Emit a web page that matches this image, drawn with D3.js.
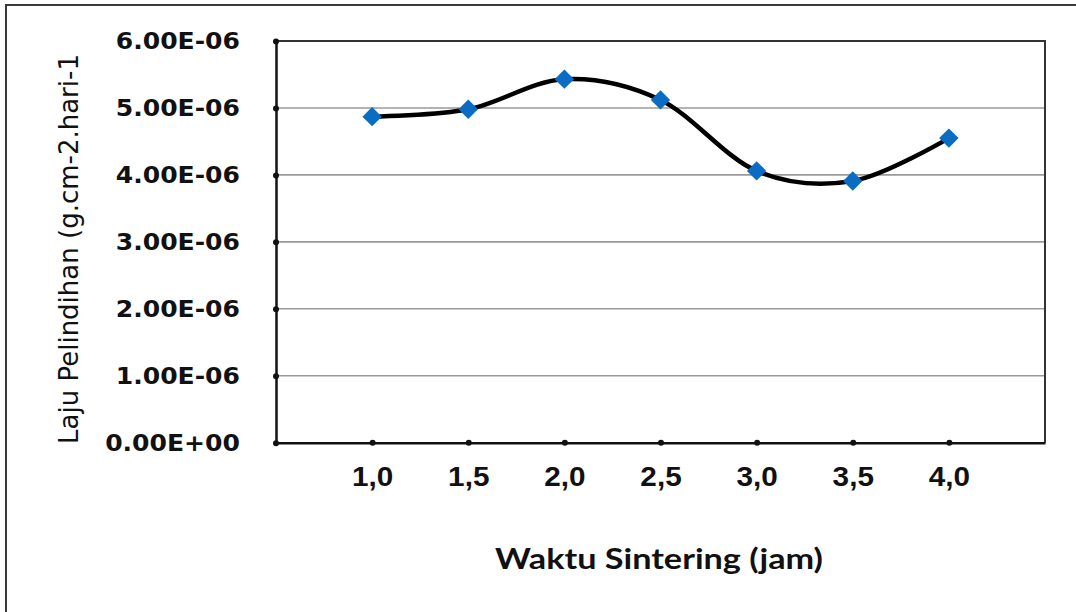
<!DOCTYPE html>
<html>
<head>
<meta charset="utf-8">
<script src="https://cdn.jsdelivr.net/npm/d3@7"></script>
<style>
  html, body { margin: 0; padding: 0; background: #fff; }
  svg { display: block; }
</style>
</head>
<body>
<svg id="chart" width="1076" height="612"></svg>
<script>
// ---- data ----
const categories = ["1,0", "1,5", "2,0", "2,5", "3,0", "3,5", "4,0"];
const sinteringHours = [1.0, 1.5, 2.0, 2.5, 3.0, 3.5, 4.0];
const leachRate = [4.87e-6, 4.98e-6, 5.43e-6, 5.12e-6, 4.06e-6, 3.91e-6, 4.55e-6];
const yTickValues = [0, 1e-6, 2e-6, 3e-6, 4e-6, 5e-6, 6e-6];
const yTickLabels = ["0.00E+00", "1.00E-06", "2.00E-06", "3.00E-06", "4.00E-06", "5.00E-06", "6.00E-06"];
const yTitle = "Laju Pelindihan (g.cm-2.hari-1";
const xTitle = "Waktu Sintering (jam)";

// ---- layout ----
const W = 1076, H = 612;
const plot = { left: 276, right: 1045, top: 41, bottom: 442.7 };

const svg = d3.select("#chart");
svg.append("rect").attr("width", W).attr("height", H).attr("fill", "#fff");

// outer frame (top and left edges visible)
svg.append("path")
  .attr("d", `M6,${H} L6,5 L${W},5`)
  .attr("fill", "none").attr("stroke", "#3a3a3a").attr("stroke-width", 2);

const x = d3.scaleLinear().domain([0.5, 4.5]).range([plot.left, plot.right]);
const y = d3.scaleLinear().domain([0, 6e-6]).range([plot.bottom, plot.top]);

// gridlines
svg.append("g").selectAll("line")
  .data(yTickValues.filter(v => v > 0 && v < 6e-6))
  .join("line")
  .attr("x1", plot.left).attr("x2", plot.right)
  .attr("y1", d => y(d)).attr("y2", d => y(d))
  .attr("stroke", "#9a9a9a").attr("stroke-width", 1.6);

// plot frame top and right
svg.append("path")
  .attr("d", `M${plot.left},${y(6e-6)} L${plot.right},${y(6e-6)} L${plot.right},${plot.bottom}`)
  .attr("fill", "none").attr("stroke", "#333").attr("stroke-width", 2);

// y axis
const yAxis = d3.axisLeft(y)
  .tickValues(yTickValues)
  .tickFormat((d, i) => yTickLabels[i])
  .tickSize(0)
  .tickPadding(36);
const gy = svg.append("g").attr("transform", `translate(${plot.left},0)`).call(yAxis);
gy.select(".domain").attr("stroke", "#111").attr("stroke-width", 2.5);
gy.selectAll(".tick text")
  .attr("fill", "#111")
  .style("font-family", "'DejaVu Sans', Verdana, sans-serif")
  .style("font-weight", "bold")
  .style("font-size", "23px");
gy.selectAll(".tick").append("circle").attr("r", 3).attr("fill", "#111");

// x axis
const xAxis = d3.axisBottom(x)
  .tickValues(sinteringHours)
  .tickFormat((d, i) => categories[i])
  .tickSize(0)
  .tickPadding(24);
const gx = svg.append("g").attr("transform", `translate(0,${plot.bottom})`).call(xAxis);
gx.select(".domain").attr("stroke", "#111").attr("stroke-width", 2.5);
gx.selectAll(".tick text")
  .attr("fill", "#111")
  .style("font-family", "'Liberation Sans', Arial, sans-serif")
  .style("font-weight", "bold")
  .style("font-size", "27px");
gx.selectAll(".tick").append("circle").attr("r", 3).attr("fill", "#111");

// horizontal stretch of tick labels to match the reference
gy.selectAll(".tick text").each(function () {
  const len = this.getComputedTextLength();
  d3.select(this).attr("textLength", len * 1.09).attr("lengthAdjust", "spacingAndGlyphs");
});
gx.selectAll(".tick text").each(function () {
  const len = this.getComputedTextLength();
  d3.select(this).attr("textLength", len * 1.1).attr("lengthAdjust", "spacingAndGlyphs");
});

// smoothed line
const pts = sinteringHours.map((h, i) => [h, leachRate[i]]);
const line = d3.line()
  .x(d => x(d[0])).y(d => y(d[1]))
  .curve(d3.curveCardinal.tension(0));
svg.append("path")
  .datum(pts)
  .attr("d", line)
  .attr("fill", "none").attr("stroke", "#000").attr("stroke-width", 4.5)
  .attr("stroke-linejoin", "round").attr("stroke-linecap", "round");

// diamond markers
const diamond = d3.symbol().type(d3.symbolDiamond2).size(240);
svg.append("g").selectAll("path")
  .data(pts)
  .join("path")
  .attr("transform", d => `translate(${x(d[0])},${y(d[1])})`)
  .attr("d", diamond)
  .attr("fill", "#0b6cc4");

// axis titles
svg.append("text")
  .attr("transform", `translate(78,${(53 + 445) / 2}) rotate(-90)`)
  .attr("text-anchor", "middle")
  .attr("fill", "#111")
  .style("font-family", "'DejaVu Sans', Verdana, sans-serif")
  .style("font-size", "26px")
  .text(yTitle);

svg.append("text")
  .attr("x", 659).attr("y", 569)
  .attr("text-anchor", "middle")
  .attr("fill", "#111")
  .attr("textLength", 328).attr("lengthAdjust", "spacingAndGlyphs")
  .style("font-family", "Lato, 'Open Sans', sans-serif")
  .style("font-weight", "bold")
  .style("font-size", "29px")
  .text(xTitle);
</script>
</body>
</html>
